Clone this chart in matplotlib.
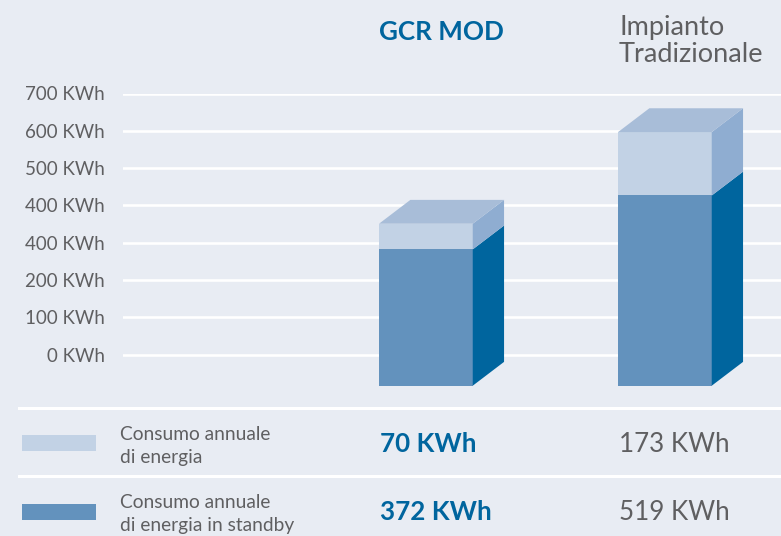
import matplotlib
matplotlib.use("Agg")
import matplotlib.pyplot as plt
from matplotlib.patches import Polygon, Rectangle

# data
categories = ["GCR MOD", "Impianto\nTradizionale"]
standby = [372, 519]          # Consumo annuale di energia in standby
annual = [70, 173]            # Consumo annuale di energia
tick_values = [0, 100, 200, 300, 400, 500, 600, 700]
tick_labels = ["0 KWh", "100 KWh", "200 KWh", "400 KWh", "400 KWh", "500 KWh", "600 KWh", "700 KWh"]
legend_labels = ["Consumo annuale\ndi energia", "Consumo annuale\ndi energia in standby"]

BG = "#e8ecf3"
BLUE = "#00659e"
GREY = "#5f5f61"
C_DARK = "#6392bd"
C_DARK_SIDE = "#00659e"
C_LIGHT = "#c2d2e5"
C_LIGHT_SIDE = "#8fadd1"
C_TOP = "#a8bdd8"
FONT = "Lato"

W, H = 781, 536
fig = plt.figure(figsize=(W / 100, H / 100), dpi=100, facecolor=BG)

def fx(x): return x / W
def fy(y): return 1 - y / H

# main axes: grid + ticks (px 123..781, y 93.5..385.7)
ax = fig.add_axes([fx(123), fy(385.7), fx(781) - fx(123), fy(93.5) - fy(385.7)])
ax.set_facecolor("none")
ax.set_xlim(-1.2674, 1.4858)
ax.set_ylim(-83.1, 700)
for v in tick_values:
    ax.axhline(v, color="white", lw=1.9, zorder=0)
ax.set_yticks(tick_values, tick_labels)
ax.tick_params(axis="y", length=0, pad=13, labelsize=13.5, labelcolor=GREY)
for lab in ax.get_yticklabels():
    lab.set_fontfamily(FONT)
ax.set_xticks([])
for s in ax.spines.values():
    s.set_visible(False)

# bars on their own scale
ax2 = ax.twinx()
ax2.set_ylim(0, 797.3)
ax2.axis("off")
bw = 0.392
dx, dy = 0.131, 65.0
for i in range(len(categories)):
    x0, x1 = i - bw / 2, i + bw / 2
    s, t = standby[i], standby[i] + annual[i]
    ax2.bar(i, s, width=bw, color=C_DARK, zorder=2)
    ax2.bar(i, annual[i], bottom=s, width=bw, color=C_LIGHT, zorder=2)
    ax2.add_patch(Polygon([(x1, 0), (x1 + dx, dy), (x1 + dx, s + dy), (x1, s)],
                          closed=True, color=C_DARK_SIDE, lw=0, zorder=2))
    ax2.add_patch(Polygon([(x1, s), (x1 + dx, s + dy), (x1 + dx, t + dy), (x1, t)],
                          closed=True, color=C_LIGHT_SIDE, lw=0, zorder=2))
    ax2.add_patch(Polygon([(x0, t), (x0 + dx, t + dy), (x1 + dx, t + dy), (x1, t)],
                          closed=True, color=C_TOP, lw=0, zorder=2))

# column headers
fig.text(fx(441.5), fy(39.5), categories[0], ha="center", va="baseline",
         fontsize=18.7, fontweight="bold", color=BLUE, family=FONT)
l1, l2 = categories[1].split("\n")
fig.text(fx(619), fy(34.7), l1, ha="left", va="baseline", fontsize=19.5,
         color=GREY, family=FONT)
fig.text(fx(619), fy(62.3), l2, ha="left", va="baseline", fontsize=19.5,
         color=GREY, family=FONT)

# bottom table
for y in (408.3, 476):
    fig.add_artist(plt.Line2D([fx(19), 1], [fy(y), fy(y)], color="white", lw=2.2))

rows = [(C_LIGHT, legend_labels[0], annual), (C_DARK, legend_labels[1], standby)]
for k, (col, lab, vals) in enumerate(rows):
    yc = 443 + k * 68.5
    fig.add_artist(Rectangle((fx(22), fy(yc + 8)), fx(96) - fx(22), fy(yc - 8) - fy(yc + 8),
                             color=col, lw=0))
    a, b = lab.split("\n")
    fig.text(fx(120), fy(yc - 3.5), a, ha="left", va="baseline", fontsize=13.8,
             color=GREY, family=FONT)
    fig.text(fx(120), fy(yc + 19.5), b, ha="left", va="baseline", fontsize=13.8,
             color=GREY, family=FONT)
    fig.text(fx(380), fy(yc + 1), f"{vals[0]} KWh", ha="left", va="center",
             fontsize=18.7, fontweight="bold", color=BLUE, family=FONT)
    fig.text(fx(619), fy(yc + 1), f"{vals[1]} KWh", ha="left", va="center",
             fontsize=18.7, color=GREY, family=FONT)

fig.savefig("out.png", dpi=100, facecolor=BG)
